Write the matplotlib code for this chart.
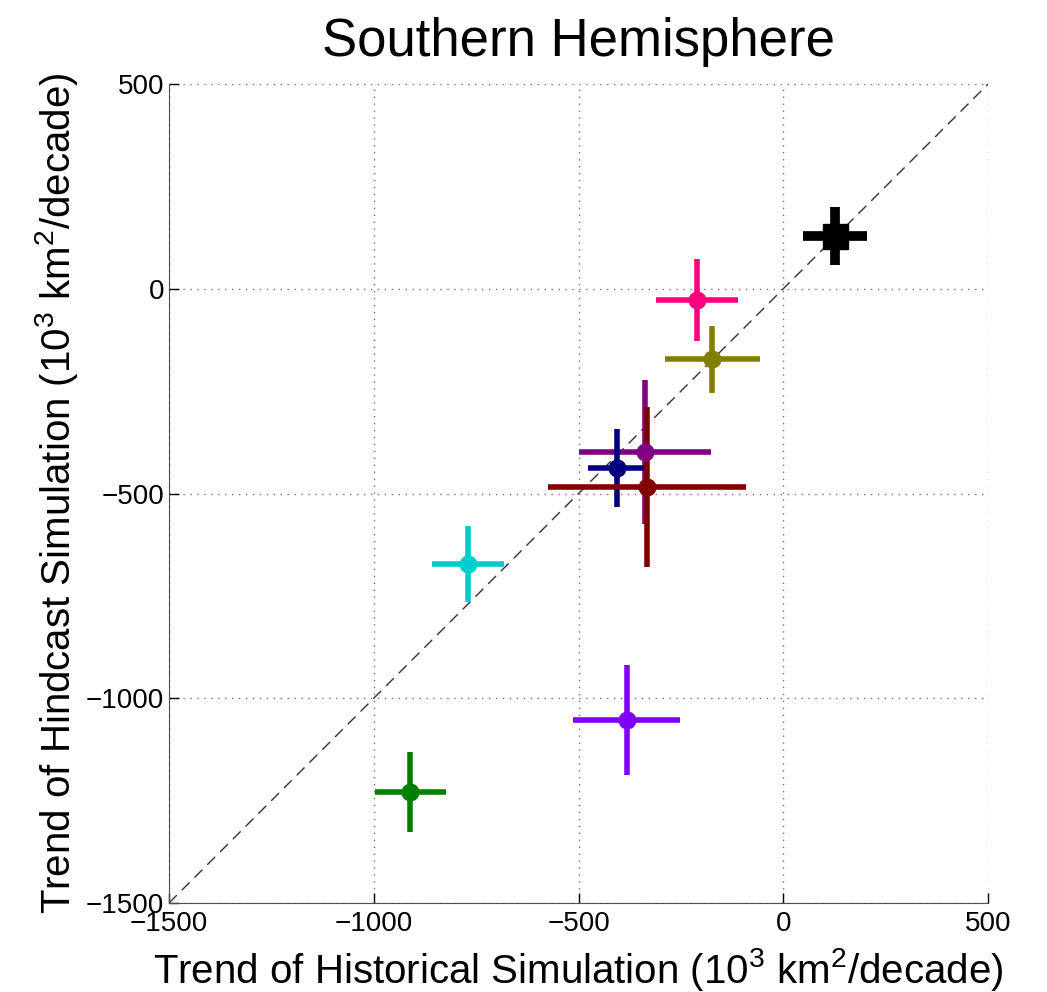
import numpy as np
import matplotlib
matplotlib.use('Agg')
from matplotlib import pyplot as plt

plt.rcParams['font.family'] = ['Liberation Sans', 'DejaVu Sans']
plt.rcParams['mathtext.fontset'] = 'custom'
plt.rcParams['mathtext.rm'] = 'Liberation Sans'
plt.rcParams['mathtext.it'] = 'Liberation Sans'

# trends (10^3 km^2/decade): historical (x) vs hindcast (y), with error bars
names = ['pink', 'olive', 'purple', 'navy', 'darkred', 'cyan', 'violet', 'green']
hist = [-211, -174, -338, -406, -333, -770, -382, -911]
hind = [-27, -172, -399, -438, -484, -672, -1053, -1229]
hist_err = [101, 116, 162, 72, 242, 88, 131, 87]
hind_err = [100, 82, 175, 96, 195, 92, 134, 98]
colors = [(1, 0, 0.5), (0.5, 0.5, 0), (0.5, 0, 0.5), (0, 0, 0.5),
          (0.5, 0, 0), (0, 0.8, 0.8), (0.5, 0, 1), (0, 0.5, 0)]

# observed (black)
obs_x, obs_y = 126, 128
obs_xerr, obs_yerr = 79, 71

ticks = [-1500, -1000, -500, 0, 500]

fig = plt.figure(figsize=(10.47, 9.92), dpi=100)
ax = fig.add_axes([0.1614, 0.0897, 0.7823, 0.8256])

ax.plot([-1500, 500], [-1500, 500], '--', color=(0.2, 0.2, 0.2),
        linewidth=1.0, dashes=(8, 5), zorder=1)

for i in range(len(hist)):
    ax.errorbar(hist[i], hind[i], xerr=hist_err[i], yerr=hind_err[i],
                fmt='o', color=colors[i], markersize=12, elinewidth=4,
                capsize=0, zorder=3)

ax.errorbar(obs_x, obs_y, xerr=obs_xerr, yerr=obs_yerr, fmt='s',
            color='k', markersize=18, elinewidth=7, capsize=0, zorder=4)

ax.set_xlim(-1500, 500)
ax.set_ylim(-1500, 500)
ax.set_xticks(ticks)
ax.set_yticks(ticks)
ax.set_xticklabels([str(t).replace('-', '\u2212') for t in ticks])
ax.set_yticklabels([str(t).replace('-', '\u2212') for t in ticks])
ax.tick_params(direction='in', length=7, labelsize=20, width=1)
ax.tick_params(axis='x', pad=6)
ax.grid(True, linestyle=(0, (1, 4)), color=(0.45, 0.45, 0.45), linewidth=1)
ax.spines['top'].set_visible(False)
ax.spines['right'].set_visible(False)
ax.spines['left'].set_color((0.3, 0.3, 0.3))
ax.spines['bottom'].set_color((0.3, 0.3, 0.3))

ax.set_xlabel(r'Trend of Historical Simulation (10$^3$ km$^2$/decade)',
              fontsize=29, labelpad=6)
ax.set_ylabel(r'Trend of Hindcast Simulation (10$^3$ km$^2$/decade)',
              fontsize=29, labelpad=4)
ax.set_title('Southern Hemisphere', fontsize=38, pad=20)

fig.savefig('out.png', dpi=100)
